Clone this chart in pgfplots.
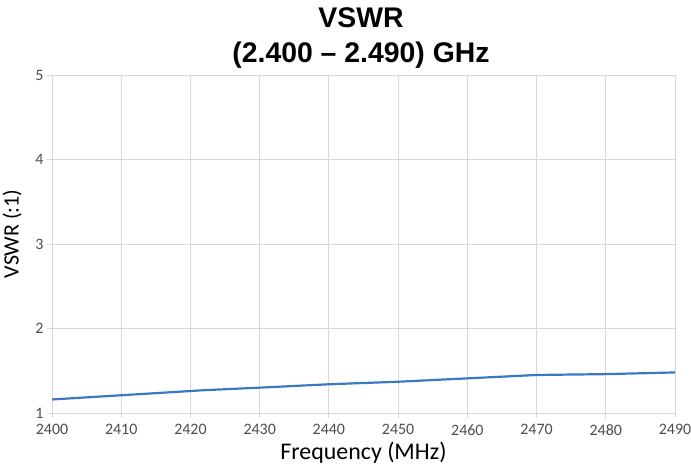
\documentclass[border=0pt]{standalone}
\usepackage{pgfplots}
\pgfplotsset{compat=1.18}
\usepackage{fontspec}
\setmainfont{Carlito}
\newfontfamily\titlefont{Liberation Sans}
\definecolor{vswrblue}{HTML}{3B78C2}
\definecolor{gridgray}{HTML}{D9D9D9}

\begin{document}
\begin{tikzpicture}
\path[use as bounding box] (-52bp,-55bp) rectangle (639bp,413bp);
\begin{axis}[
    at={(0,0)}, anchor=origin,
    scale only axis,
    width=623bp, height=338bp,
    xmin=2400, xmax=2490,
    ymin=1, ymax=5,
    xtick={2400,2410,...,2490},
    ytick={1,2,3,4,5},
    xmajorgrids, ymajorgrids,
    grid style={gridgray, line width=0.8pt},
    axis line style={gridgray, line width=0.8pt},
    tick style={gridgray, line width=0.8pt},
    tick align=outside,
    major tick length=5bp,
    xtick pos=bottom, ytick pos=left,
    /pgf/number format/assume math mode=true,
    /pgf/number format/1000 sep={},
    tick label style={font=\fontsize{16}{16}\selectfont, text=black!70},
    xticklabel style={yshift=-3bp},
    xlabel={Frequency (MHz)},
    ylabel={VSWR (:1)},
    xlabel style={font=\fontsize{24}{24}\selectfont,
        at={(axis description cs:0.5,-0.139)}, anchor=base},
    ylabel style={font=\fontsize{22}{22}\selectfont,
        at={(axis description cs:-0.064,0.53)}, anchor=center},
]
\addplot[color=vswrblue, line width=2.2pt] coordinates {
    (2400, 1.16)
    (2410, 1.21)
    (2422, 1.27)
    (2430, 1.30)
    (2440, 1.34)
    (2450, 1.37)
    (2460, 1.41)
    (2470, 1.45)
    (2480, 1.46)
    (2490, 1.48)
};
\end{axis}
\node[font=\titlefont\bfseries\fontsize{28.5}{28.5}\selectfont, anchor=base]
    at (309bp, 385bp) {VSWR};
\node[font=\titlefont\bfseries\fontsize{28.5}{28.5}\selectfont, anchor=base]
    at (309bp, 350bp) {(2.400 – 2.490) GHz};
\end{tikzpicture}
\end{document}
